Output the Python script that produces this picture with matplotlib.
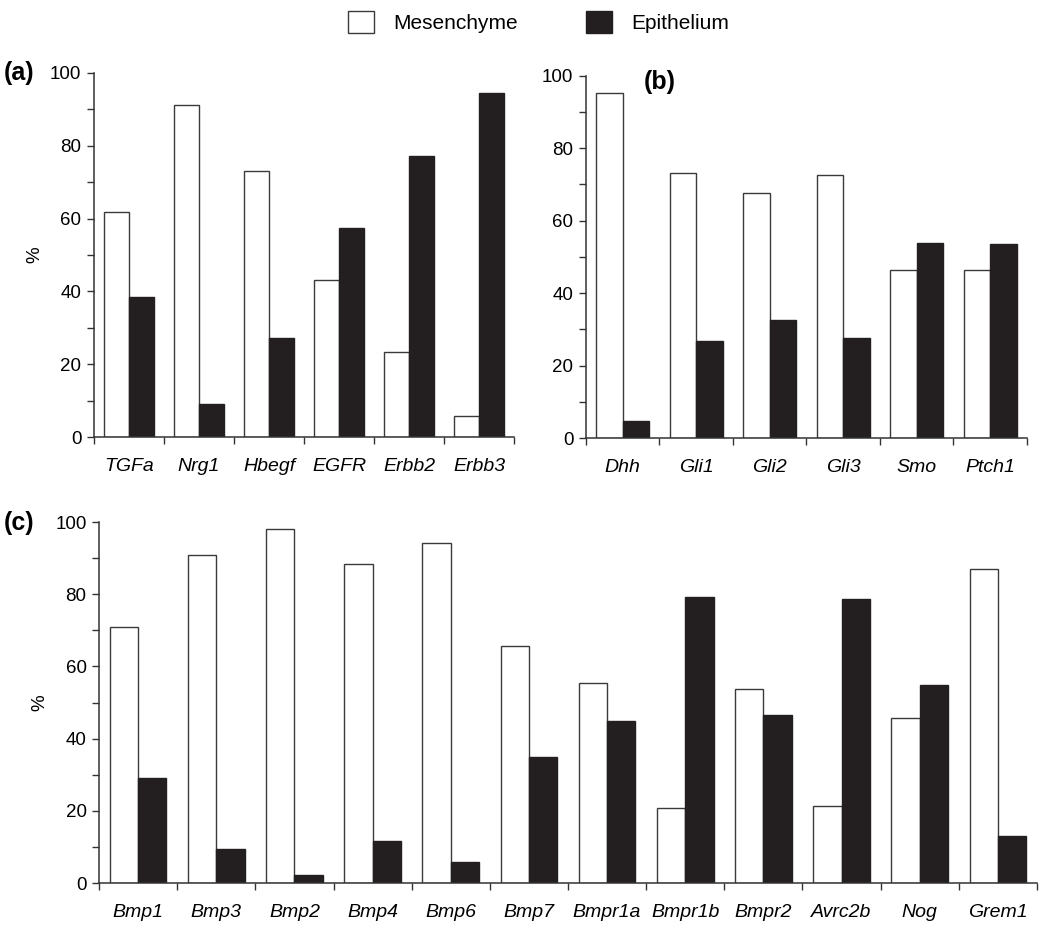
import matplotlib
matplotlib.use("Agg")
import matplotlib.pyplot as plt
from matplotlib.patches import Patch
from matplotlib.ticker import MultipleLocator, FixedLocator
import numpy as np

plt.rcParams['font.family'] = ['Liberation Sans', 'DejaVu Sans']

genes_a = ["TGFa", "Nrg1", "Hbegf", "EGFR", "Erbb2", "Erbb3"]
mes_a = [61.9, 91.2, 73.1, 43.0, 23.3, 5.8]
epi_a = [38.4, 9.2, 27.2, 57.4, 77.2, 94.6]

genes_b = ["Dhh", "Gli1", "Gli2", "Gli3", "Smo", "Ptch1"]
mes_b = [95.2, 73.2, 67.7, 72.5, 46.4, 46.4]
epi_b = [4.6, 26.9, 32.5, 27.6, 53.7, 53.6]

genes_c = ["Bmp1", "Bmp3", "Bmp2", "Bmp4", "Bmp6", "Bmp7",
           "Bmpr1a", "Bmpr1b", "Bmpr2", "Avrc2b", "Nog", "Grem1"]
mes_c = [70.8, 90.8, 98.1, 88.5, 94.3, 65.6, 55.3, 20.8, 53.7, 21.4, 45.6, 87.1]
epi_c = [29.1, 9.4, 2.1, 11.7, 5.7, 34.9, 45.0, 79.3, 46.6, 78.6, 54.8, 13.1]

BLACK = "#231f20"
EDGE = "#3a3a3a"
FS = 13.5

fig = plt.figure(figsize=(10.5, 9.34), dpi=100)

def panel(rect, genes, mes, epi, ylabel=True, xfs=FS):
    ax = fig.add_axes(rect)
    n = len(genes)
    x = np.arange(n)
    w = 0.362
    ax.bar(x - w / 2, mes, width=w, color="white", edgecolor=EDGE, linewidth=1.0)
    ax.bar(x + w / 2, epi, width=w, color=BLACK, edgecolor=BLACK, linewidth=1.0)
    ax.set_xlim(-0.5, n - 0.5)
    ax.set_ylim(0, 100)
    for s in ["top", "right"]:
        ax.spines[s].set_visible(False)
    for s in ["left", "bottom"]:
        ax.spines[s].set_linewidth(1.1)
        ax.spines[s].set_color("#333333")
    ax.yaxis.set_major_locator(MultipleLocator(20))
    ax.yaxis.set_minor_locator(MultipleLocator(10))
    ax.tick_params(axis="y", which="both", direction="out", length=5, width=1.0,
                   color="#333333", labelsize=FS, pad=4)
    ax.xaxis.set_major_locator(FixedLocator(np.arange(n + 1) - 0.5))
    ax.xaxis.set_minor_locator(FixedLocator(x))
    ax.set_xticklabels([], minor=False)
    ax.set_xticklabels(genes, minor=True, style="italic", fontsize=xfs)
    ax.tick_params(axis="x", which="major", direction="out", length=5, width=1.0,
                   color="#333333")
    ax.tick_params(axis="x", which="minor", length=0, pad=15)
    if ylabel:
        ax.set_ylabel("%", fontsize=FS, labelpad=5)
    return ax

ax_a = panel([0.0895, 0.532, 0.400, 0.390], genes_a, mes_a, epi_a, xfs=14)
ax_b = panel([0.558, 0.531, 0.420, 0.388], genes_b, mes_b, epi_b, ylabel=False, xfs=14)
ax_c = panel([0.0943, 0.0546, 0.8933, 0.3864], genes_c, mes_c, epi_c, xfs=14)

PL = 18
fig.text(0.004, 0.922, "(a)", fontsize=PL, fontweight="bold", va="center", ha="left")
fig.text(0.613, 0.912, "(b)", fontsize=PL, fontweight="bold", va="center", ha="left")
fig.text(0.004, 0.440, "(c)", fontsize=PL, fontweight="bold", va="center", ha="left")

handles = [Patch(facecolor="white", edgecolor=EDGE, linewidth=1.0, label="Mesenchyme"),
           Patch(facecolor=BLACK, edgecolor=BLACK, linewidth=1.0, label="Epithelium")]
fig.legend(handles=handles, loc="center", bbox_to_anchor=(0.513, 0.976), ncol=2,
           frameon=False, fontsize=15, handlelength=1.25, handleheight=1.25,
           handletextpad=0.9, columnspacing=3.3)

fig.savefig("out.png", dpi=100)
